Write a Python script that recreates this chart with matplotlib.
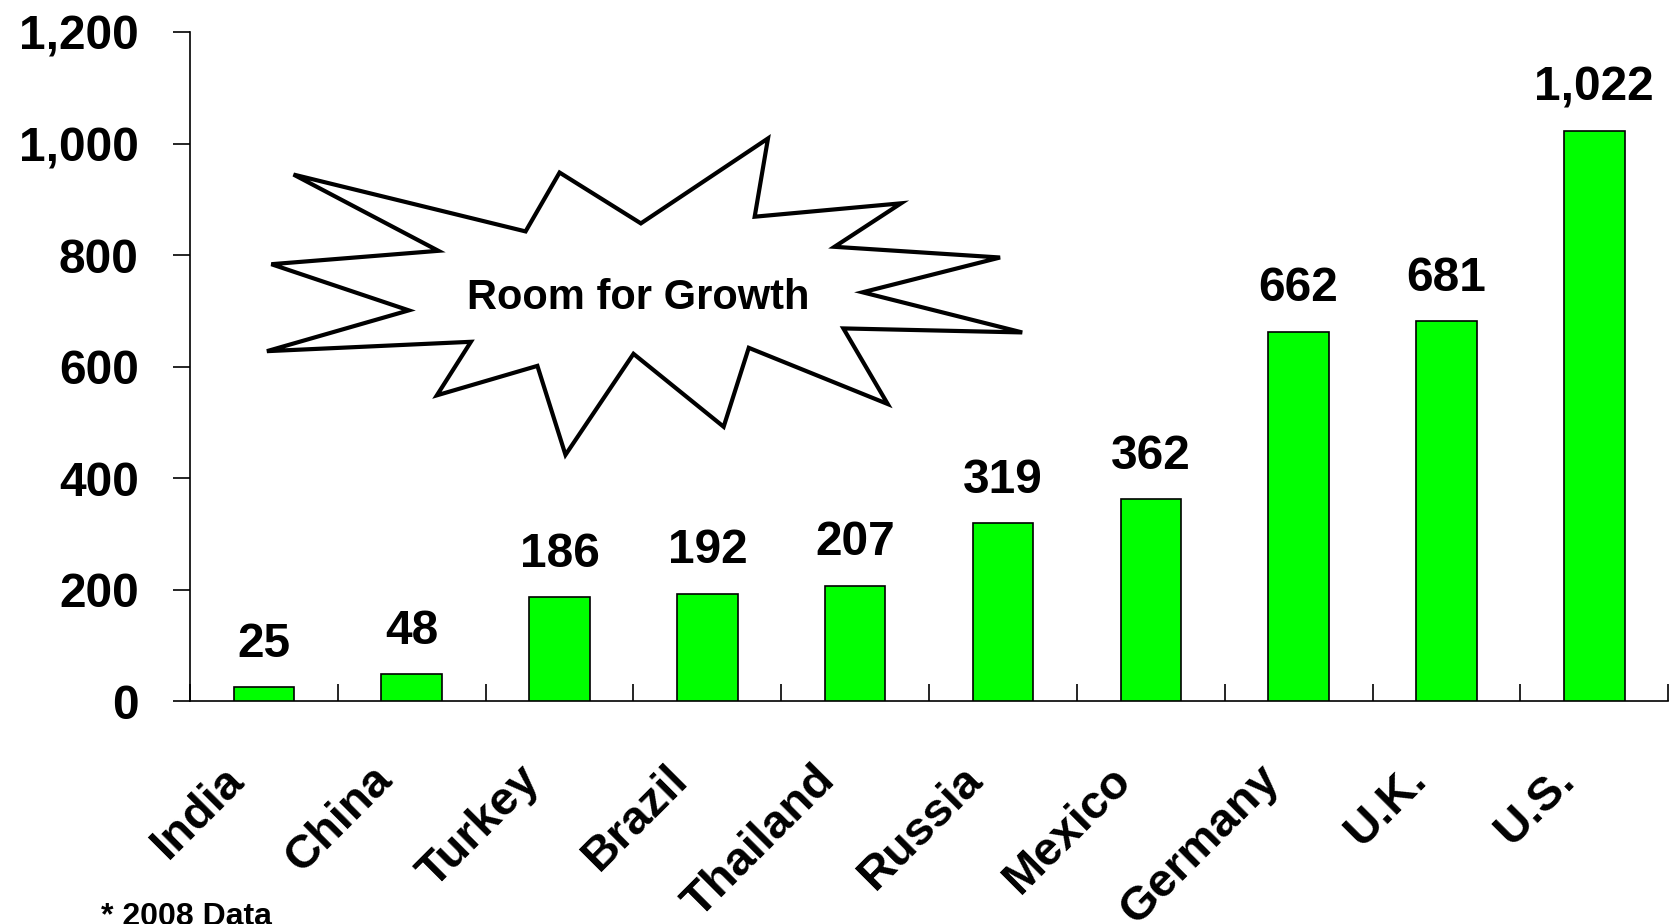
#!/usr/bin/env python3

import numpy as np
import matplotlib
matplotlib.use("Agg")
import matplotlib.pyplot as plt
import matplotlib.transforms as mtransforms
from matplotlib.patches import Polygon
from matplotlib.ticker import StrMethodFormatter

countries = ["India", "China", "Turkey", "Brazil", "Thailand",
             "Russia", "Mexico", "Germany", "U.K.", "U.S."]
values = [25, 48, 186, 192, 207, 319, 362, 662, 681, 1022]
value_labels = ["25", "48", "186", "192", "207", "319", "362", "662", "681", "1,022"]
y_ticks = [0, 200, 400, 600, 800, 1000, 1200]
footnote = "* 2008 Data"
burst_text = "Room for Growth"

# burst outline (axes fraction), clockwise from the upper-left point
star_x = [0.070, 0.227, 0.250, 0.305, 0.391, 0.382, 0.481, 0.436, 0.548, 0.455, 0.563, 0.442,
          0.472, 0.378, 0.361, 0.300, 0.254, 0.235, 0.167, 0.190, 0.052, 0.148, 0.055, 0.168]
star_y = [0.787, 0.702, 0.790, 0.714, 0.841, 0.724, 0.744, 0.679, 0.663, 0.611, 0.551, 0.557,
          0.444, 0.528, 0.410, 0.519, 0.368, 0.501, 0.457, 0.537, 0.523, 0.584, 0.653, 0.673]


def main() -> None:
    plt.rcParams["font.family"] = ["Liberation Sans", "DejaVu Sans"]
    plt.rcParams["font.weight"] = "bold"

    fig = plt.figure(figsize=(16.73, 9.24), dpi=100)
    ax = fig.add_axes([0.1136, 0.2413, 0.8835, 0.7240])

    x = np.arange(len(countries))
    ax.bar(x, values, width=0.41, color="#00ff00", edgecolor="black", linewidth=1.2, zorder=3)
    for xi, v, lab in zip(x, values, value_labels):
        ax.annotate(lab, (xi, v), xytext=(0, 22), textcoords="offset points",
                    ha="center", va="baseline", fontsize=34.5, fontweight="bold")

    ax.set_xlim(-0.5, len(countries) - 0.5)
    ax.set_ylim(0, 1200)
    ax.spines["top"].set_visible(False)
    ax.spines["right"].set_visible(False)
    ax.spines["left"].set_linewidth(1.2)
    ax.spines["bottom"].set_linewidth(1.2)

    ax.set_yticks(y_ticks)
    ax.yaxis.set_major_formatter(StrMethodFormatter("{x:,.0f}"))
    ax.tick_params(axis="y", direction="out", length=12, width=1.2, pad=25, labelsize=34.5)

    ax.set_xticks(x)
    ax.set_xticklabels(countries)
    ax.set_xticks(np.arange(-0.5, len(countries)), minor=True)
    ax.tick_params(axis="x", which="major", length=0, pad=58, labelsize=34)
    ax.tick_params(axis="x", which="minor", direction="in", length=12, width=1.2)
    shift = mtransforms.ScaledTranslation(-13 / 72, 0, fig.dpi_scale_trans)
    for label in ax.get_xticklabels():
        label.set_rotation(45)
        label.set_rotation_mode("anchor")
        label.set_ha("right")
        label.set_va("baseline")
        label.set_transform(label.get_transform() + shift)

    star = Polygon(list(zip(star_x, star_y)), closed=True, transform=ax.transAxes,
                   facecolor="white", edgecolor="black", linewidth=3, zorder=4)
    ax.add_patch(star)
    ax.text(0.303, 0.603, burst_text, transform=ax.transAxes, ha="center", va="center",
            fontsize=30, fontweight="bold", zorder=5)

    fig.text(0.0605, -0.001, footnote, ha="left", va="baseline", fontsize=23, fontweight="bold")

    fig.savefig("out.png", dpi=100)


if __name__ == "__main__":
    main()
